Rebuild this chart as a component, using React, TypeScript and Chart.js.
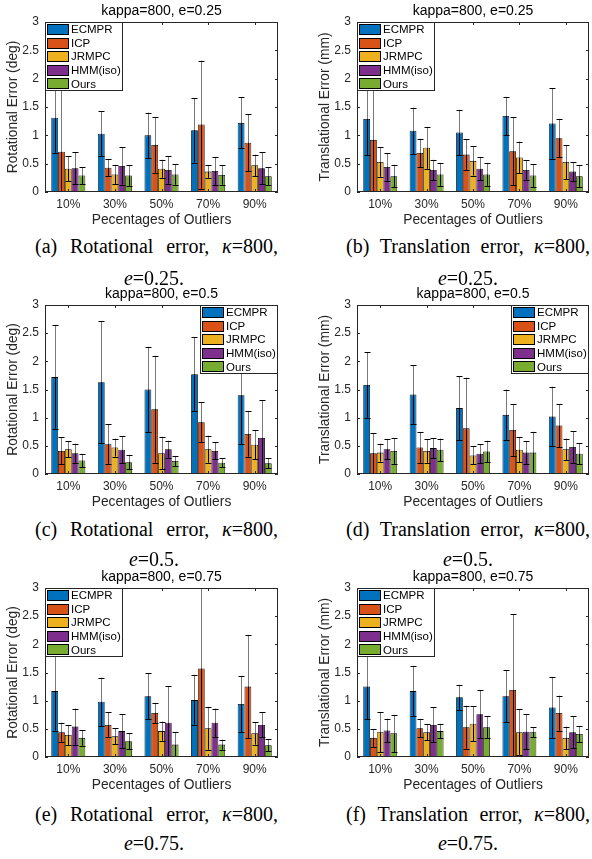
import React, { useEffect, useRef } from "react";
import { Chart, registerables } from "chart.js";

Chart.register(...registerables);

const categories = ["10%", "30%", "50%", "70%", "90%"];
const methods = ["ECMPR", "ICP", "JRMPC", "HMM(iso)", "Ours"];
const methodColors = ["#0072BD", "#D95319", "#EDB120", "#7E2F8E", "#77AC30"];
const yTickValues = [0, 0.5, 1, 1.5, 2, 2.5, 3];
const yTickLabels = ["0", "0.5", "1", "1.5", "2", "2.5", "3"];

// rows: methods (ECMPR, ICP, JRMPC, HMM(iso), Ours); columns: categories
const rot025Mean = [
  [1.31, 1.03, 1.0, 1.09, 1.22],
  [0.71, 0.43, 0.83, 1.19, 0.87],
  [0.41, 0.31, 0.41, 0.36, 0.47],
  [0.42, 0.46, 0.39, 0.37, 0.42],
  [0.29, 0.29, 0.31, 0.3, 0.28],
];
const rot025Std = [
  [0.62, 0.4, 0.4, 0.57, 0.45],
  [1.2, 0.15, 0.49, 1.13, 0.5],
  [0.22, 0.17, 0.16, 0.11, 0.19],
  [0.28, 0.33, 0.24, 0.24, 0.28],
  [0.15, 0.18, 0.18, 0.17, 0.16],
];
const tra025Mean = [
  [1.29, 1.08, 1.05, 1.34, 1.21],
  [0.92, 0.69, 0.66, 0.72, 0.95],
  [0.53, 0.78, 0.55, 0.61, 0.53],
  [0.44, 0.39, 0.41, 0.39, 0.36],
  [0.28, 0.31, 0.31, 0.29, 0.28],
];
const tra025Std = [
  [0.64, 0.41, 0.4, 0.34, 0.62],
  [1.0, 0.25, 0.27, 0.6, 0.34],
  [0.26, 0.37, 0.26, 0.28, 0.3],
  [0.24, 0.18, 0.2, 0.17, 0.17],
  [0.2, 0.2, 0.2, 0.2, 0.19],
];
const rot05Mean = [
  [1.72, 1.63, 1.5, 1.77, 1.4],
  [0.41, 0.53, 1.15, 0.92, 0.71],
  [0.44, 0.47, 0.37, 0.44, 0.52],
  [0.37, 0.43, 0.44, 0.41, 0.64],
  [0.24, 0.21, 0.23, 0.2, 0.19],
];
const rot05Std = [
  [0.92, 1.08, 0.76, 0.66, 0.87],
  [0.24, 0.35, 0.95, 0.35, 0.4],
  [0.14, 0.16, 0.29, 0.24, 0.26],
  [0.17, 0.24, 0.15, 0.15, 0.67],
  [0.12, 0.13, 0.09, 0.08, 0.09],
];
const tra05Mean = [
  [1.58, 1.41, 1.17, 1.05, 1.02],
  [0.37, 0.47, 0.81, 0.78, 0.86],
  [0.38, 0.41, 0.33, 0.43, 0.44],
  [0.44, 0.46, 0.36, 0.38, 0.48],
  [0.41, 0.43, 0.4, 0.38, 0.36],
];
const tra05Std = [
  [0.58, 0.52, 0.57, 0.45, 0.53],
  [0.36, 0.27, 0.9, 0.46, 0.38],
  [0.16, 0.21, 0.16, 0.22, 0.19],
  [0.18, 0.18, 0.17, 0.2, 0.28],
  [0.23, 0.2, 0.19, 0.37, 0.19],
];
const rot075Mean = [
  [1.17, 0.98, 1.08, 1.01, 0.94],
  [0.44, 0.57, 0.78, 1.57, 1.25],
  [0.39, 0.37, 0.46, 0.51, 0.42],
  [0.54, 0.46, 0.61, 0.61, 0.57],
  [0.34, 0.28, 0.22, 0.22, 0.21],
];
const rot075Std = [
  [0.7, 0.43, 0.41, 0.45, 0.5],
  [0.17, 0.22, 0.18, 1.6, 0.91],
  [0.18, 0.14, 0.17, 0.38, 0.2],
  [0.32, 0.3, 0.65, 0.25, 0.22],
  [0.14, 0.14, 0.22, 0.09, 0.11],
];
const tra075Mean = [
  [1.25, 1.17, 1.06, 1.08, 0.88],
  [0.34, 0.51, 0.53, 1.19, 0.78],
  [0.44, 0.44, 0.59, 0.44, 0.34],
  [0.47, 0.57, 0.76, 0.45, 0.44],
  [0.42, 0.46, 0.53, 0.44, 0.41],
];
const tra075Std = [
  [0.57, 0.45, 0.22, 0.46, 0.54],
  [0.16, 0.16, 0.38, 1.34, 0.31],
  [0.36, 0.14, 0.31, 0.41, 0.2],
  [0.21, 0.31, 0.43, 0.31, 0.28],
  [0.33, 0.13, 0.19, 0.09, 0.14],
];

const xAxisTitle = "Pecentages of Outliers";

type Area = { l: number; r: number; t: number; b: number };
type PanelDef = {
  x: number;
  y: number;
  area: Area;
  title: string;
  ylabel: string;
  mean: number[][];
  std: number[][];
  legend: "tl" | "tr";
};

const CW = 296;
const CH = 230;

const panels: PanelDef[] = [
  { x: 0, y: 0, area: { l: 45, r: 278, t: 22, b: 192 }, title: "kappa=800, e=0.25", ylabel: "Rotational Error (deg)", mean: rot025Mean, std: rot025Std, legend: "tl" },
  { x: 296, y: 0, area: { l: 357, r: 589, t: 22, b: 192 }, title: "kappa=800, e=0.25", ylabel: "Translational Error (mm)", mean: tra025Mean, std: tra025Std, legend: "tl" },
  { x: 0, y: 283, area: { l: 45, r: 278, t: 305, b: 474 }, title: "kappa=800, e=0.5", ylabel: "Rotational Error (deg)", mean: rot05Mean, std: rot05Std, legend: "tr" },
  { x: 296, y: 283, area: { l: 357, r: 589, t: 305, b: 474 }, title: "kappa=800, e=0.5", ylabel: "Translational Error (mm)", mean: tra05Mean, std: tra05Std, legend: "tr" },
  { x: 0, y: 566, area: { l: 45, r: 278, t: 588, b: 757 }, title: "kappa=800, e=0.75", ylabel: "Rotational Error (deg)", mean: rot075Mean, std: rot075Std, legend: "tl" },
  { x: 296, y: 566, area: { l: 357, r: 589, t: 588, b: 757 }, title: "kappa=800, e=0.75", ylabel: "Translational Error (mm)", mean: tra075Mean, std: tra075Std, legend: "tl" },
];

type CaptionDef = { tag: string; kind: string; e: string; left: number; width: number; center: number; base1: number; base2: number };
const captions: CaptionDef[] = [
  { tag: "(a)", kind: "Rotational", e: "0.25.", left: 35, width: 243, center: 154, base1: 253, base2: 285 },
  { tag: "(b)", kind: "Translation", e: "0.25.", left: 346, width: 244, center: 468, base1: 253, base2: 285 },
  { tag: "(c)", kind: "Rotational", e: "0.5.", left: 35, width: 243, center: 154, base1: 536, base2: 566 },
  { tag: "(d)", kind: "Translation", e: "0.5.", left: 346, width: 244, center: 468, base1: 536, base2: 566 },
  { tag: "(e)", kind: "Rotational", e: "0.75.", left: 35, width: 243, center: 154, base1: 821, base2: 850 },
  { tag: "(f)", kind: "Translation", e: "0.75.", left: 346, width: 244, center: 468, base1: 821, base2: 850 },
];

const SANS = "'Liberation Sans', Arial, Helvetica, sans-serif";
const SERIF = "'Liberation Serif', 'Times New Roman', Times, serif";

function makeDecor(p: PanelDef) {
  return {
    id: "decor",
    afterDraw(chart: any) {
      const ctx: CanvasRenderingContext2D = chart.ctx;
      const a = chart.chartArea;
      const ys = chart.scales.y;
      const xs = chart.scales.x;

      // error bars
      ctx.save();
      ctx.beginPath();
      ctx.rect(a.left, a.top, a.right - a.left, a.bottom - a.top);
      ctx.clip();
      ctx.lineWidth = 1;
      methods.forEach((_, i) => {
        const meta = chart.getDatasetMeta(i);
        meta.data.forEach((el: any, j: number) => {
          const m = p.mean[i][j];
          const s = p.std[i][j];
          const x = Math.round(el.x) + 0.5;
          const yHi = ys.getPixelForValue(m + s);
          const yM = ys.getPixelForValue(m);
          const yLo = ys.getPixelForValue(m - s);
          ctx.strokeStyle = "#7a7a7a";
          ctx.beginPath();
          ctx.moveTo(x, yHi);
          ctx.lineTo(x, yM);
          ctx.stroke();
          ctx.strokeStyle = "#000";
          ctx.beginPath();
          ctx.moveTo(x, yM);
          ctx.lineTo(x, yLo);
          ctx.stroke();
          ctx.beginPath();
          ctx.moveTo(x - 3, Math.round(yHi) + 0.5);
          ctx.lineTo(x + 3, Math.round(yHi) + 0.5);
          ctx.moveTo(x - 3, Math.round(yLo) + 0.5);
          ctx.lineTo(x + 3, Math.round(yLo) + 0.5);
          ctx.stroke();
        });
      });
      ctx.restore();

      // box and ticks
      ctx.save();
      ctx.strokeStyle = "#262626";
      ctx.lineWidth = 1;
      ctx.strokeRect(a.left + 0.5, a.top + 0.5, a.right - a.left - 1, a.bottom - a.top - 1);
      ctx.beginPath();
      yTickValues.forEach((v) => {
        const y = Math.round(ys.getPixelForValue(v)) + 0.5;
        ctx.moveTo(a.left, y);
        ctx.lineTo(a.left + 3, y);
        ctx.moveTo(a.right, y);
        ctx.lineTo(a.right - 3, y);
      });
      categories.forEach((_, j) => {
        const x = Math.round(xs.getPixelForValue(j)) + 0.5;
        ctx.moveTo(x, a.bottom);
        ctx.lineTo(x, a.bottom - 3);
        ctx.moveTo(x, a.top);
        ctx.lineTo(x, a.top + 3);
      });
      ctx.stroke();
      ctx.restore();

      // legend
      const LW = 78;
      const LH = 69;
      const lx = p.legend === "tl" ? a.left : a.right - LW;
      const ly = a.top;
      ctx.save();
      ctx.fillStyle = "#fff";
      ctx.fillRect(lx, ly, LW, LH);
      ctx.strokeStyle = "#262626";
      ctx.lineWidth = 1;
      ctx.strokeRect(lx + 0.5, ly + 0.5, LW - 1, LH - 1);
      ctx.font = `11.5px ${SANS}`;
      ctx.textBaseline = "middle";
      ctx.textAlign = "left";
      methods.forEach((m, i) => {
        const cy = ly + 7.5 + i * 13.6;
        ctx.fillStyle = methodColors[i];
        ctx.fillRect(lx + 2.5, Math.round(cy - 5.5), 21, 11);
        ctx.strokeStyle = "#000";
        ctx.strokeRect(lx + 2.5, Math.round(cy - 5.5) + 0.5, 21, 10);
        ctx.fillStyle = "#000";
        ctx.fillText(m, lx + 26, cy + 0.5);
      });
      ctx.restore();

      // titles
      ctx.save();
      const cx = (a.left + a.right) / 2;
      ctx.textAlign = "center";
      ctx.textBaseline = "middle";
      ctx.fillStyle = "#000";
      ctx.font = `14px ${SANS}`;
      ctx.fillText(p.title, cx, a.top - 10.5);
      ctx.fillStyle = "#262626";
      ctx.font = `13.8px ${SANS}`;
      ctx.fillText(xAxisTitle, cx, a.bottom + 28);
      ctx.translate(a.left - 32, (a.top + a.bottom) / 2);
      ctx.rotate(-Math.PI / 2);
      ctx.fillText(p.ylabel, 0, 0);
      ctx.restore();
    },
  };
}

function Panel({ p }: { p: PanelDef }) {
  const ref = useRef<HTMLCanvasElement | null>(null);
  useEffect(() => {
    const canvas = ref.current;
    if (!canvas) return;
    const yW = p.area.l - p.x;
    const padRight = p.x + CW - p.area.r;
    const padTop = p.area.t - p.y;
    const xH = p.y + CH - p.area.b;
    const chart = new Chart(canvas, {
      type: "bar",
      data: {
        labels: categories,
        datasets: methods.map((m, i) => ({
          label: m,
          data: p.mean[i],
          backgroundColor: methodColors[i],
          borderColor: "#000",
          borderWidth: 0.8,
          borderSkipped: false,
          categoryPercentage: 0.73,
          barPercentage: 1.0,
        })),
      },
      options: {
        responsive: false,
        animation: false,
        devicePixelRatio: 1,
        layout: { padding: { left: 0, right: padRight, top: padTop, bottom: 0 } },
        plugins: { legend: { display: false }, tooltip: { enabled: false }, title: { display: false } },
        scales: {
          x: {
            type: "category",
            offset: true,
            grid: { display: false, drawTicks: false },
            border: { display: false },
            ticks: { color: "#262626", font: { family: SANS, size: 12 }, padding: 5, maxRotation: 0, autoSkip: false },
            afterFit: (s: any) => {
              s.height = xH;
            },
          },
          y: {
            min: 0,
            max: 3,
            grid: { display: false, drawTicks: false },
            border: { display: false },
            afterBuildTicks: (s: any) => {
              s.ticks = yTickValues.map((v) => ({ value: v }));
            },
            ticks: {
              color: "#262626",
              font: { family: SANS, size: 12 },
              padding: 6,
              callback: (v: any) => {
                const k = yTickValues.indexOf(Number(v));
                return k >= 0 ? yTickLabels[k] : "";
              },
            },
            afterFit: (s: any) => {
              s.width = yW;
            },
          },
        },
      },
      plugins: [makeDecor(p)],
    } as any);
    return () => chart.destroy();
  }, [p]);
  return (
    <canvas
      ref={ref}
      width={CW}
      height={CH}
      style={{ position: "absolute", left: p.x, top: p.y, width: CW, height: CH }}
    />
  );
}

const FS = 20;
const ASC = 0.891 * FS;
const LINE_H = FS;
const baseOff = (LINE_H - (0.891 + 0.216) * FS) / 2 + ASC;

function Caption({ c }: { c: CaptionDef }) {
  const common: React.CSSProperties = {
    position: "absolute",
    fontFamily: SERIF,
    fontSize: FS,
    lineHeight: `${LINE_H}px`,
    color: "#000",
    whiteSpace: "nowrap",
  };
  return (
    <>
      <div
        style={{
          ...common,
          left: c.left,
          top: c.base1 - baseOff,
          width: c.width,
          display: "flex",
          justifyContent: "space-between",
        }}
      >
        <span>{c.tag}</span>
        <span>{c.kind}</span>
        <span>error,</span>
        <span>
          <i>κ</i>=800,
        </span>
      </div>
      <div style={{ ...common, left: c.center - 100, width: 200, textAlign: "center", top: c.base2 - baseOff }}>
        <i>e</i>={c.e}
      </div>
    </>
  );
}

export default function App() {
  return (
    <div style={{ position: "absolute", left: 0, top: 0, width: 592, height: 859, background: "#fff", overflow: "hidden" }}>
      {panels.map((p, i) => (
        <Panel key={i} p={p} />
      ))}
      {captions.map((c, i) => (
        <Caption key={i} c={c} />
      ))}
    </div>
  );
}
